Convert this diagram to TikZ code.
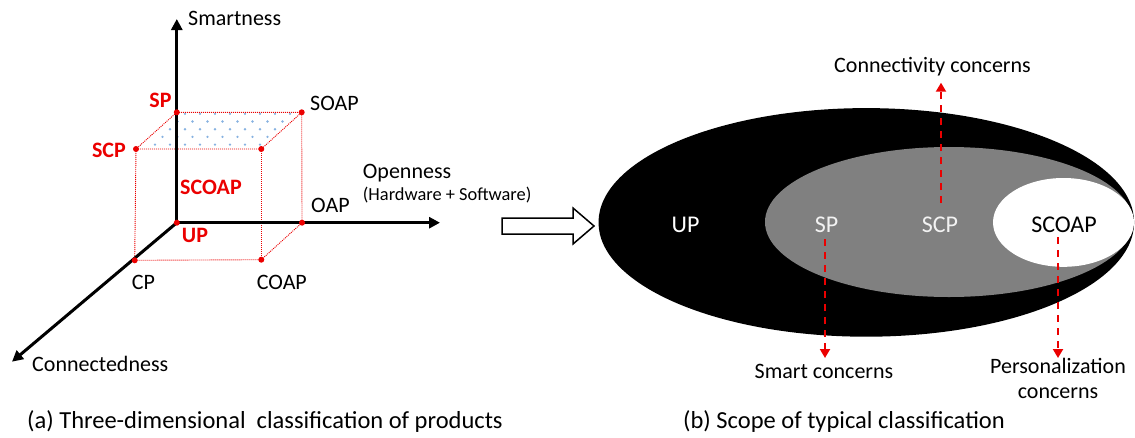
\documentclass[tikz,border=0pt]{standalone}
\usepackage{fontspec}
\setmainfont{Carlito}
\usetikzlibrary{arrows.meta,shapes.geometric}

\definecolor{dotblue}{RGB}{135,178,225}
\definecolor{midgrey}{RGB}{128,128,128}
\definecolor{paletext}{RGB}{242,242,242}
\definecolor{markred}{RGB}{235,0,0}

\tikzset{
  lab/.style={font=\fontsize{22}{25}\selectfont, inner sep=0pt},
  smalllab/.style={font=\fontsize{18.4}{22}\selectfont, inner sep=0pt},
  redlab/.style={font=\fontsize{22}{25}\selectfont\bfseries, text=markred, inner sep=0pt},
  setlab/.style={font=\fontsize{24}{28}\selectfont, inner sep=0pt},
  caption/.style={font=\fontsize{24.5}{28}\selectfont, inner sep=0pt},
  axisline/.style={line width=3pt, {Triangle[length=11pt,width=11pt]}-{Triangle[length=11pt,width=11pt]}},
  axisarrow/.style={line width=3pt, -{Triangle[length=11pt,width=11pt]}},
  cubeedge/.style={markred, line width=0.9pt, dash pattern=on 1pt off 1pt},
  vertex/.style={circle, fill=markred, inner sep=0pt, minimum size=6pt},
  concern/.style={markred, line width=2pt, dash pattern=on 7pt off 6pt, -{Triangle[length=9pt,width=10pt]}},
  setshape/.style={ellipse, inner sep=0pt, draw=none},
}

\begin{document}
\begin{tikzpicture}[x=1pt,y=-1pt]
\useasboundingbox (0,0) rectangle (1135,437);

% ---------- (a) product cube ----------
\coordinate (O)     at (176.8,222.7);
\coordinate (ztip)  at (176.8,19);
\coordinate (xtip)  at (440,222.7);
\coordinate (ytip)  at (12,361.7);

\coordinate (pSP)   at (176.8,112.3);
\coordinate (pSOAP) at (301.7,112.3);
\coordinate (pSCP)  at (136,149);
\coordinate (pSCOAP) at (261.3,149);
\coordinate (pOAP)  at (302,222.7);
\coordinate (pCP)   at (134.7,260.3);
\coordinate (pCOAP) at (261.3,259.7);

% dotted fill of the top face
\begin{scope}
  \clip (pSP) -- (pSOAP) -- (pSCOAP) -- (pSCP) -- cycle;
  \foreach \r in {0,...,5}{
    \pgfmathsetmacro{\yy}{113.8+7.7*\r}
    \pgfmathsetmacro{\xo}{mod(\r,2)*7.5}
    \foreach \c in {0,...,12}{
      \fill[dotblue] (125+\xo+15*\c,\yy) circle (1.3pt);
    }
  }
\end{scope}

% cube edges
\draw[cubeedge] (pSP) -- (pSOAP) -- (pSCOAP) -- (pSCP) -- cycle;
\draw[cubeedge] (pSCP) -- (pCP) -- (pCOAP) -- (pOAP) -- (pSOAP);
\draw[cubeedge] (pSCOAP) -- (pCOAP);

% axes
\draw[axisline] (ztip) -- (O) -- (xtip);
\draw[axisarrow] (O) -- (ytip);

% corner points
\node[vertex] (vSP)    at (pSP) {};
\node[vertex] (vSOAP)  at (pSOAP) {};
\node[vertex] (vSCP)   at (pSCP) {};
\node[vertex] (vSCOAP) at (pSCOAP) {};
\node[vertex] (vUP)    at (O) {};
\node[vertex] (vOAP)   at (pOAP) {};
\node[vertex] (vCP)    at (pCP) {};
\node[vertex] (vCOAP)  at (pCOAP) {};

% axis names
\node[lab, anchor=base west] (smart) at (188,25) {Smartness};
\node[lab, anchor=base west] (open) at (362.7,178.3) {Openness};
\node[smalllab, anchor=base west] (hwsw) at (362.7,200.7) {(Hardware + Software)};
\node[lab, anchor=base west] (connd) at (32,371) {Connectedness};

% point names
\node[redlab, anchor=base east] (tSP) at (171.7,107) {SP};
\node[lab, anchor=base west] (tSOAP) at (310,110) {SOAP};
\node[redlab, anchor=base east] (tSCP) at (126,157.5) {SCP};
\node[redlab, anchor=base west] (tSCOAP) at (180,194.3) {SCOAP};
\node[redlab, anchor=base west] (tUP) at (181.7,242.7) {UP};
\node[lab, anchor=base west] (tOAP) at (311,212.3) {OAP};
\node[lab, anchor=base west] (tCP) at (131.7,289) {CP};
\node[lab, anchor=base west] (tCOAP) at (256.7,289) {COAP};

\node[caption, anchor=base west] (capa) at (27,428.3) {(a) Three-dimensional\ \ classification of products};

% ---------- hollow arrow ----------
\draw[line width=1.5pt, fill=white, line join=miter]
  (502,218) -- (573,218) -- (573,208) -- (594,226) -- (573,244) -- (573,234) -- (502,234) -- cycle;

% ---------- (b) nested scopes ----------
\node[setshape, fill=black, minimum width=535.6pt, minimum height=228.6pt] (setUP) at (866.3,222.4) {};
\node[setshape, fill=midgrey, minimum width=368pt, minimum height=150pt] (setSP) at (949,222) {};
\node[setshape, fill=white, minimum width=141pt, minimum height=88.8pt] (setSCOAP) at (1063.5,222.4) {};

\node[setlab, text=white, anchor=base] (lUP) at (685.5,232) {UP};
\node[setlab, text=paletext, anchor=base] (lSP) at (826.5,232) {SP};
\node[setlab, text=paletext, anchor=base] (lSCP) at (940,232) {SCP};
\node[setlab, text=black, anchor=base] (lSCOAP) at (1064,232) {SCOAP};

\node[lab, anchor=base] (cconn) at (932.5,72) {Connectivity concerns};
\node[lab, anchor=base] (csmart) at (824,378.3) {Smart concerns};
\node[lab, align=center, anchor=center] (cpers) at (1058,378) {Personalization\\concerns};

\coordinate (aSCPs) at (941,203);
\coordinate (aSCPe) at (941,82.7);
\coordinate (aSPs) at (825,239);
\coordinate (aSPe) at (825,358);
\coordinate (aSCOAPs) at (1058,237);
\coordinate (aSCOAPe) at (1058,358);
\draw[concern] (aSCPs) -- (aSCPe);
\draw[concern] (aSPs) -- (aSPe);
\draw[concern] (aSCOAPs) -- (aSCOAPe);

\node[caption, anchor=base west] (capb) at (683,428.3) {(b) Scope of typical classification};
\end{tikzpicture}
\end{document}
